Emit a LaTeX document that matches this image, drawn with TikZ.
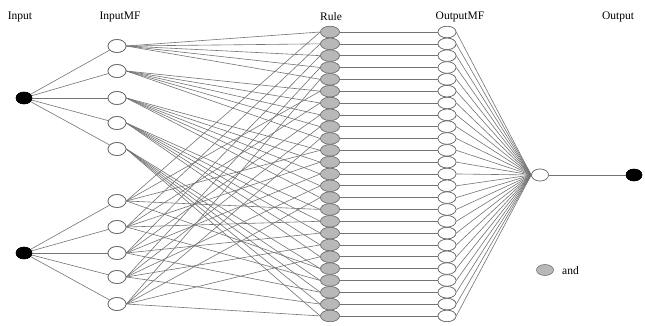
\documentclass[tikz,border=0pt]{standalone}
\usepackage{fontspec}
\setmainfont{Liberation Serif}
\usetikzlibrary{shapes.geometric}
\begin{document}
\begin{tikzpicture}[x=1pt,y=-1pt,
  wire/.style={draw=black!55,line width=0.6pt},
  blk/.style={ellipse,fill=black,draw=black,minimum width=16pt,minimum height=12pt,inner sep=0pt},
  mf/.style={ellipse,fill=white,draw=black!60,line width=0.7pt,minimum width=18pt,minimum height=13pt,inner sep=0pt},
  rl/.style={ellipse,fill=black!28,draw=black!55,line width=0.6pt,minimum width=19pt,minimum height=11.5pt,inner sep=0pt},
  om/.style={ellipse,fill=white,draw=black!60,line width=0.6pt,minimum width=18pt,minimum height=11.5pt,inner sep=0pt},
  lbl/.style={font=\fontsize{11.5}{13}\selectfont,inner sep=0pt}]
\useasboundingbox (0,0) rectangle (645,325);
% labels
\node[lbl] (tin) at (20,17) {Input};
\node[lbl] (tinmf) at (120,17) {InputMF};
\node[lbl] (trule) at (331,17) {Rule};
\node[lbl] (toutmf) at (460,17) {OutputMF};
\node[lbl] (tout) at (618,17) {Output};
% inputs
\node[blk] (x1) at (24,98) {};
\node[blk] (x2) at (24,253) {};
% input MFs
\foreach \i/\y in {1/46,2/71,3/98,4/123,5/149}{
  \node[mf] (a\i) at (117,\y) {};
}
\foreach \i/\y in {1/201,2/227,3/253,4/277,5/304}{
  \node[mf] (b\i) at (117,\y) {};
}
% rules and output MFs
\foreach \k in {1,...,25}{
  \pgfmathsetmacro{\yy}{32+(\k-1)*11.83}
  \node[rl] (r\k) at (330,\yy) {};
  \node[om] (o\k) at (447,\yy) {};
}
% output nodes
\node[om,minimum width=17pt,minimum height=12pt] (s) at (540,175) {};
\node[blk] (y) at (634,175) {};
% legend
\node[rl,minimum width=17pt,minimum height=11pt] (leg) at (545,270) {};
\node[lbl,anchor=west] (legt) at (562,271) {and};
% wires
\begin{scope}[on background layer/.style={}]
\foreach \i in {1,...,5}{
  \draw[wire] (x1) -- (a\i);
  \draw[wire] (x2) -- (b\i);
}
\foreach \i in {1,...,5}{
  \foreach \j in {1,...,5}{
    \pgfmathtruncatemacro{\k}{5*(\i-1)+\j}
    \pgfmathtruncatemacro{\m}{5*(\j-1)+\i}
    \draw[wire] (a\i.east) -- (r\k.west);
    \draw[wire] (b\i.east) -- (r\m.west);
  }
}
\foreach \k in {1,...,25}{
  \draw[wire] (r\k.east) -- (o\k.west);
  \draw[wire] (o\k.east) -- (s.west);
}
\draw[wire] (s) -- (y);
\end{scope}
% redraw nodes on top
\foreach \i in {1,...,5}{
  \node[mf] at (a\i) {};
  \node[mf] at (b\i) {};
}
\foreach \k in {1,...,25}{
  \node[rl] at (r\k) {};
  \node[om] at (o\k) {};
}
\node[om,minimum width=17pt,minimum height=12pt] at (s) {};
\node[blk] at (x1) {};
\node[blk] at (x2) {};
\node[blk] at (y) {};
\end{tikzpicture}
\end{document}
